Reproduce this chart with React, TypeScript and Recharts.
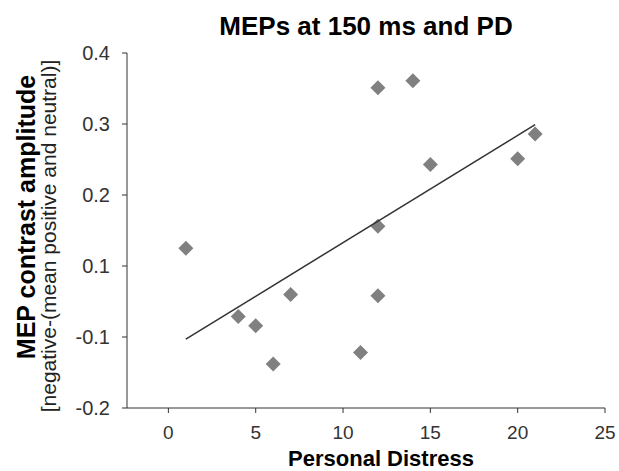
import React from 'react';
import { ScatterChart, Scatter, XAxis, YAxis } from 'recharts';

// Personal Distress score and MEP contrast amplitude for each participant
const distress = [1, 4, 5, 6, 7, 11, 12, 12, 12, 14, 15, 20, 21];
const amplitude = [0.125, 0.029, 0.016, -0.038, 0.06, -0.022, 0.058, 0.156, 0.351, 0.361, 0.243, 0.251, 0.286];

// fitted trend line, end points
const trendX = [1, 21];
const trendY = [-0.003, 0.299];

const xTicks = [0, 5, 10, 15, 20, 25];
const yTicks = [-0.1, 0, 0.1, 0.2, 0.3, 0.4];
// labels as printed on the original axis
const yTickLabels = ['-0.2', '-0.1', '0.1', '0.2', '0.3', '0.4'];

const points = distress.map((x, i) => ({ x, y: amplitude[i] }));
const trend = trendX.map((x, i) => ({ x, y: trendY[i] }));

const FONT = 'Arial, "Liberation Sans", Helvetica, sans-serif';

const Diamond = (props: any) => {
  const { cx, cy } = props;
  const r = 7.5;
  return (
    <polygon
      points={`${cx},${cy - r} ${cx + r},${cy} ${cx},${cy + r} ${cx - r},${cy}`}
      fill="#808080"
    />
  );
};

const YLabel = () => (
  <g fontFamily={FONT}>
    <text
      x={35}
      y={217}
      transform="rotate(-90, 35, 217)"
      textAnchor="middle"
      fontSize={25}
      fontWeight="bold"
      fill="#000"
    >
      MEP contrast amplitude
    </text>
    <text
      x={56}
      y={236}
      transform="rotate(-90, 56, 236)"
      textAnchor="middle"
      fontSize={21}
      fill="#222"
    >
      [negative-(mean positive and neutral)]
    </text>
  </g>
);

const XLabel = () => (
  <text x={381} y={466} textAnchor="middle" fontFamily={FONT} fontSize={22} fontWeight="bold" fill="#000">
    Personal Distress
  </text>
);

const App: React.FC = () => {
  return (
    <div style={{ position: 'absolute', left: 0, top: 0, width: 619, height: 471, background: '#fff' }}>
      <div
        style={{
          position: 'absolute',
          left: 113,
          top: 11,
          width: 506,
          textAlign: 'center',
          fontFamily: FONT,
          fontSize: 26,
          fontWeight: 'bold',
          lineHeight: '30px',
          color: '#000',
        }}
      >
        MEPs at 150 ms and PD
      </div>
      <ScatterChart width={619} height={471} margin={{ top: 53, right: 14, left: 0, bottom: 0 }}>
        <XAxis
          type="number"
          dataKey="x"
          domain={[-2.37, 25]}
          allowDataOverflow
          ticks={xTicks}
          height={63}
          tickSize={5}
          tickMargin={13}
          stroke="#333"
          tick={{ fill: '#333', fontSize: 19, fontFamily: FONT }}
          label={{ content: () => <XLabel /> }}
        />
        <YAxis
          type="number"
          dataKey="y"
          domain={[-0.1, 0.4]}
          allowDataOverflow
          ticks={yTicks}
          tickFormatter={(v: number) => yTickLabels[yTicks.findIndex((t) => Math.abs(t - v) < 1e-9)] ?? ''}
          width={127}
          tickSize={5}
          tickMargin={12}
          stroke="#333"
          tick={{ fill: '#333', fontSize: 20, fontFamily: FONT }}
          label={{ content: () => <YLabel /> }}
        />
        <Scatter data={points} shape={<Diamond />} isAnimationActive={false} />
        <Scatter
          data={trend}
          line={{ stroke: '#333', strokeWidth: 1.5 }}
          shape={() => <g />}
          isAnimationActive={false}
        />
      </ScatterChart>
    </div>
  );
};

export default App;
